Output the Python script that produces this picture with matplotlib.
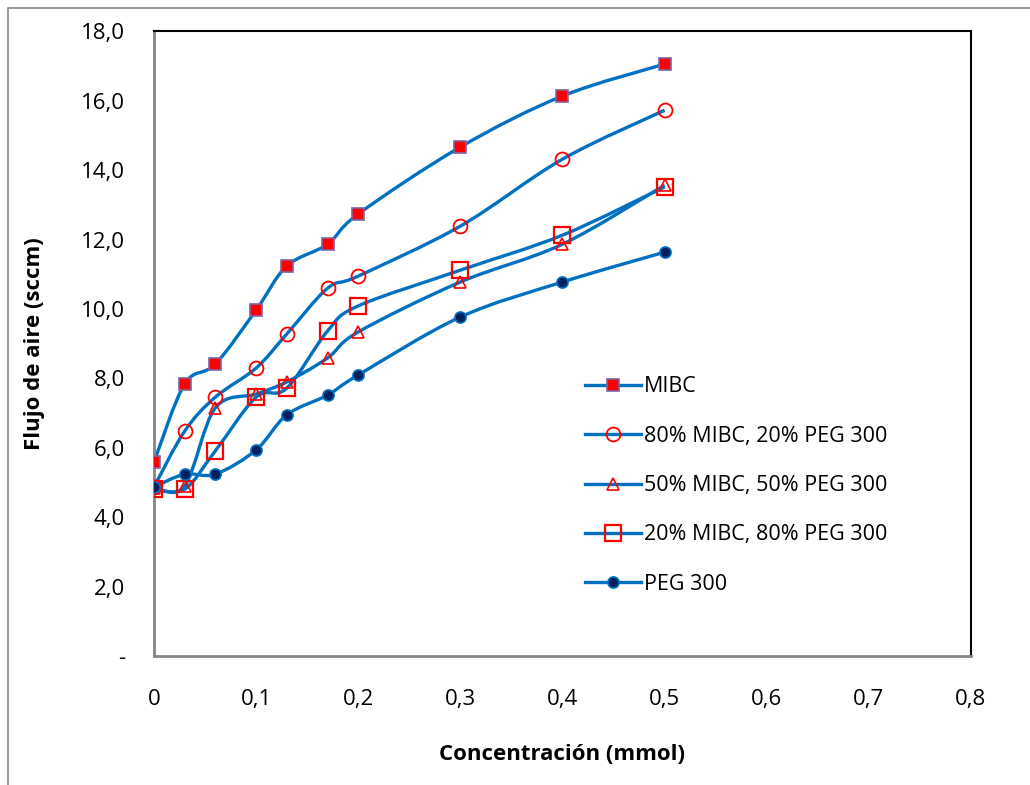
import numpy as np
import matplotlib.pyplot as plt
from matplotlib.path import Path
from matplotlib.patches import PathPatch, Rectangle
from matplotlib.lines import Line2D

plt.rcParams['font.family'] = ['Open Sans', 'DejaVu Sans']

# data
conc = [0, 0.03, 0.06, 0.1, 0.13, 0.17, 0.2, 0.3, 0.4, 0.5]
mibc = [5.59, 7.84, 8.41, 9.97, 11.24, 11.87, 12.74, 14.67, 16.14, 17.06]
mix80 = [4.87, 6.48, 7.46, 8.30, 9.28, 10.60, 10.95, 12.39, 14.32, 15.73]
mix50 = [4.84, 4.90, 7.15, 7.55, 7.90, 8.59, 9.34, 10.78, 11.87, 13.57]
mix20 = [4.81, 4.81, 5.91, 7.46, 7.72, 9.37, 10.09, 11.12, 12.13, 13.52]
peg = [4.87, 5.24, 5.24, 5.94, 6.95, 7.52, 8.10, 9.77, 10.78, 11.64]

labels = ["MIBC", "80% MIBC, 20% PEG 300", "50% MIBC, 50% PEG 300",
          "20% MIBC, 80% PEG 300", "PEG 300"]

line_c = "#0070C0"


def smooth_path(x, y):
    """Excel-like smoothed line as cubic bezier segments"""
    pts = np.column_stack([x, y]).astype(float)
    n = len(pts)
    verts = [pts[0]]
    codes = [Path.MOVETO]
    for i in range(n - 1):
        p0 = pts[i - 1] if i > 0 else pts[i]
        p1 = pts[i]
        p2 = pts[i + 1]
        p3 = pts[i + 2] if i + 2 < n else pts[i + 1]
        c1 = p1 + (p2 - p0) / 6.0
        c2 = p2 - (p3 - p1) / 6.0
        verts += [c1, c2, p2]
        codes += [Path.CURVE4] * 3
    return Path(verts, codes)


fig = plt.figure(figsize=(10.3, 7.85), dpi=100)
ax = fig.add_axes([0.1495, 0.1643, 0.7932, 0.7956])

# outer chart frame
fig.patches.append(Rectangle((8 / 1030, -0.05), 1.1, 1 - 8 / 785 + 0.05,
                             transform=fig.transFigure, fill=False,
                             edgecolor="#888888", lw=1.2))

styles = [
    dict(marker="s", ms=8, mfc="#FF0000", mec="#8064A2", mew=1.2),
    dict(marker="o", ms=10, mfc="none", mec="#FF0000", mew=1.3),
    dict(marker="^", ms=8, mfc="none", mec="#FF0000", mew=1.2),
    dict(marker="s", ms=11, mfc="none", mec="#FF0000", mew=1.6),
    dict(marker="o", ms=8, mfc="#002060", mec="#0070C0", mew=1.2),
]
series = [mibc, mix80, mix50, mix20, peg]

handles = []
for ys, st, lab in zip(series, styles, labels):
    ax.add_patch(PathPatch(smooth_path(conc, ys), facecolor="none",
                           edgecolor=line_c, lw=2.4, zorder=2))
    ax.plot(conc, ys, ls="none", zorder=3, **st)
    handles.append(Line2D([0], [0], color=line_c, lw=2.4, label=lab, **st))

ax.set_xlim(0, 0.8)
ax.set_ylim(0, 18)
ax.set_xticks(np.arange(0, 0.81, 0.1))
ax.set_yticks(np.arange(0, 18.1, 2))
ax.set_xticklabels(["0"] + [f"{v:.1f}".replace(".", ",") for v in np.arange(0.1, 0.81, 0.1)])
ax.set_yticklabels(["-"] + [f"{v:.1f}".replace(".", ",") for v in np.arange(2, 18.1, 2)])
ax.tick_params(axis="x", length=0, pad=24, labelsize=16)
ax.tick_params(axis="y", length=0, pad=21, labelsize=16)

for s in ["left", "bottom"]:
    ax.spines[s].set_color("#868686")
    ax.spines[s].set_linewidth(2)
for s in ["top", "right"]:
    ax.spines[s].set_color("black")
    ax.spines[s].set_linewidth(1.5)

ax.set_xlabel("Concentración (mmol)", fontweight="bold", fontsize=16, labelpad=24)
ax.set_ylabel("Flujo de aire (sccm)", fontweight="bold", fontsize=16, labelpad=26)

ax.legend(handles=handles, loc="upper left", bbox_to_anchor=(0.527, 0.448),
          frameon=False, fontsize=15.5, handlelength=2.6, handletextpad=0.15,
          labelspacing=1.32, borderaxespad=0, borderpad=0)

plt.savefig("out.png", dpi=100)
